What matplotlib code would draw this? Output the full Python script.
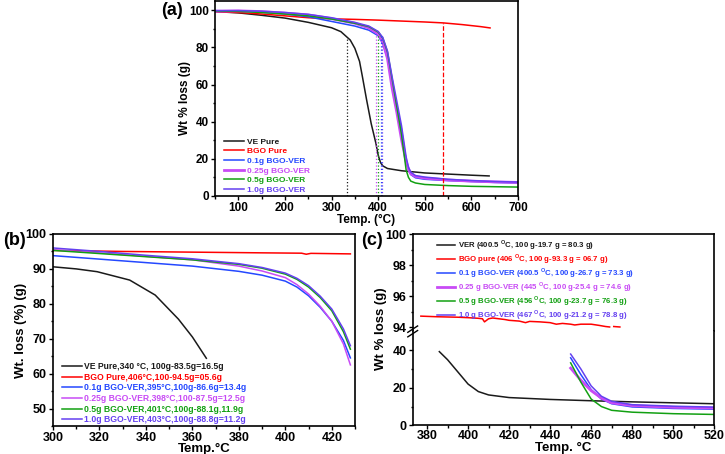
import numpy as np
import matplotlib
matplotlib.use('Agg')
import matplotlib.pyplot as plt

plt.rcParams['font.family'] = ['Liberation Sans', 'DejaVu Sans']
plt.rcParams['font.weight'] = 'bold'
plt.rcParams['axes.labelweight'] = 'bold'
plt.rcParams['mathtext.fontset'] = 'custom'
plt.rcParams['mathtext.rm'] = 'Liberation Sans:bold'
plt.rcParams['mathtext.bf'] = 'Liberation Sans:bold'

colors = ['#1a1a1a', '#ff0000', '#2448ff', '#c84bf5', '#12a012', '#6440f0']
widths = [1.1, 1.1, 1.1, 2.0, 1.1, 1.1]

# ---- panel (a): full TGA curves
a_labels = ['VE Pure', 'BGO Pure', '0.1g BGO-VER', '0.25g BGO-VER', '0.5g BGO-VER', '1.0g BGO-VER']
a_T_ve = [50, 100, 150, 200, 250, 300, 320, 340, 350, 360, 366, 375, 385, 395, 400, 405, 410, 420, 450, 500, 550, 600, 638]
a_ve = [99.3, 98.6, 97.3, 95.8, 93.5, 90.6, 88.5, 84.0, 79.5, 72.5, 64.5, 52.0, 39.0, 28.5, 22.0, 18.0, 16.2, 14.8, 13.6, 12.4, 11.8, 11.2, 10.8]
a_T_bgo = [50, 100, 150, 200, 250, 300, 350, 400, 450, 500, 540, 580, 620, 640]
a_bgo = [99.2, 98.8, 98.0, 97.0, 96.0, 95.4, 95.1, 94.7, 94.2, 93.7, 93.2, 92.3, 91.2, 90.5]
a_T = [50, 100, 150, 200, 250, 300, 350, 380, 400, 410, 420, 430, 440, 450, 460, 465, 470, 480, 500, 550, 600, 650, 700]
a_01 = [99.8, 99.6, 99.0, 98.0, 96.5, 94.0, 91.5, 89.3, 86.3, 82, 74, 60, 48, 36, 19, 14, 11.5, 9.8, 9.0, 8.3, 7.8, 7.3, 7.0]
a_025 = [99.5, 99.7, 99.3, 98.5, 97.5, 95.5, 93.0, 90.5, 87.3, 83, 74, 58, 45, 30.5, 18.5, 14.5, 12, 10.5, 9.6, 8.6, 8.0, 7.6, 7.3]
a_05 = [99.6, 99.4, 98.8, 98.0, 97.0, 95.3, 93.0, 91.2, 88.3, 85, 77.5, 63, 48, 33.3, 14, 10, 8, 7, 6.2, 5.6, 5.2, 5.0, 4.8]
a_10 = [99.8, 99.8, 99.5, 98.8, 97.8, 96.0, 93.5, 91.5, 88.6, 85.3, 78, 64, 51, 38, 21, 15.5, 12.8, 11, 10.2, 9.0, 8.3, 7.8, 7.5]
a_vline_T = [334, 396, 400, 405, 409, 540]
a_vline_top = [85, 87, 87, 87, 87, 93.2]
a_vline_col = [0, 3, 4, 2, 5, 1]

# ---- panel (b): zoom 300-430 C
b_labels = ['VE Pure,340 °C, 100g-83.5g=16.5g', 'BGO Pure,406°C,100-94.5g=05.6g',
            '0.1g BGO-VER,395°C,100g-86.6g=13.4g', '0.25g BGO-VER,398°C,100-87.5g=12.5g',
            '0.5g BGO-VER,401°C,100g-88.1g,11.9g', '1.0g BGO-VER,403°C,100g-88.8g=11.2g']
b_T_ve = [300, 310, 319, 333, 344, 354, 360, 366]
b_ve = [90.6, 90.0, 89.2, 86.8, 82.5, 75.6, 70.5, 64.4]
b_T_bgo = [300, 330, 360, 390, 407, 409, 411, 428]
b_bgo = [95.3, 95.0, 94.8, 94.6, 94.5, 94.2, 94.45, 94.3]
b_T = [300, 320, 340, 360, 380, 390, 400, 405, 410, 415, 420, 425, 428]
b_01 = [93.8, 92.8, 91.8, 90.8, 89.3, 88.2, 86.5, 84.8, 82.3, 79.0, 75.0, 69.5, 64.5]
b_025 = [95.5, 94.6, 93.6, 92.6, 90.8, 89.4, 87.5, 85.5, 82.8, 79.3, 75.0, 68.5, 62.5]
b_05 = [95.3, 94.4, 93.5, 92.6, 91.3, 90.2, 88.5, 87.0, 84.8, 81.8, 78.0, 72.0, 67.0]
b_10 = [96.0, 95.0, 93.9, 92.9, 91.5, 90.4, 88.8, 87.3, 85.2, 82.2, 78.5, 72.8, 68.0]

# ---- panel (c): broken axis
c_labels = [r'VER (400.5 $^{\mathrm{O}}$C, 100 g-19.7 g = 80.3 g)',
            r'BGO pure (406 $^{\mathrm{O}}$C, 100 g-93.3 g = 06.7 g)',
            r'0.1 g BGO-VER (400.5 $^{\mathrm{O}}$C, 100 g-26.7 g = 73.3 g)',
            r'0.25 g BGO-VER (445 $^{\mathrm{O}}$C, 100 g-25.4 g = 74.6 g)',
            r'0.5 g BGO-VER (456 $^{\mathrm{O}}$C, 100 g-23.7 g = 76.3 g)',
            r'1.0 g BGO-VER (467 $^{\mathrm{O}}$C, 100 g-21.2 g = 78.8 g)']
c_T_bgo = [377, 385, 395, 400, 405, 407, 408, 409, 410, 412, 415, 418, 420, 425, 428, 430, 435, 440,
           443, 446, 450, 452, 455, 460, 464, 467, 469]
c_bgo = [94.72, 94.68, 94.65, 94.62, 94.58, 94.55, 94.35, 94.45, 94.55, 94.6, 94.55, 94.5, 94.45, 94.4,
         94.3, 94.38, 94.35, 94.3, 94.2, 94.25, 94.2, 94.15, 94.2, 94.2, 94.12, 94.05, 94.02]
c_T_bgo2 = [471, 474]
c_bgo2 = [94.05, 94.02]
c_T_ve = [386, 390, 395, 400, 405, 410, 420, 440, 460, 480, 500, 520]
c_ve = [39.3, 35, 28.5, 22, 18, 16.2, 14.8, 13.8, 13.1, 12.5, 12.0, 11.5]
c_T = [450, 455, 460, 465, 470, 480, 500, 520]
c_01 = [36, 27, 19, 14, 11.5, 9.8, 9.0, 8.6]
c_025 = [30.5, 24, 18.5, 14.5, 12, 10.5, 9.6, 9.2]
c_05 = [33.3, 23, 14, 10, 8, 7, 6.2, 5.8]
c_10 = [38, 30, 21, 15.5, 12.8, 11, 10.2, 9.7]


def style(ax, fs):
    ax.tick_params(which='both', direction='out', top=False, right=False, labelsize=fs,
                   width=1, pad=1.5)
    ax.tick_params(which='major', length=3)
    ax.tick_params(which='minor', length=1.8)
    for s in ax.spines.values():
        s.set_linewidth(1.2)


fig = plt.figure(figsize=(7.25, 4.54), dpi=100)
ax_a = fig.add_axes([0.2966, 0.5683, 0.4179, 0.4295])
ax_b = fig.add_axes([0.0731, 0.0617, 0.4166, 0.4229])
ax_c1 = fig.add_axes([0.5692, 0.2709, 0.416, 0.213])
ax_c2 = fig.add_axes([0.5692, 0.0632, 0.416, 0.2077])

# (a)
series = [(a_T_ve, a_ve), (a_T_bgo, a_bgo), (a_T, a_01), (a_T, a_025), (a_T, a_05), (a_T, a_10)]
lines = []
for i, (t, v) in enumerate(series):
    ln, = ax_a.plot(t, v, color=colors[i], lw=widths[i])
    lines.append(ln)
for t, top, ci in zip(a_vline_T, a_vline_top, a_vline_col):
    ls = '--' if ci == 1 else ':'
    ax_a.vlines(t, 0, top, colors=colors[ci], linestyles=ls, lw=0.9)
ax_a.set_xlim(50, 700)
ax_a.set_ylim(0, 105)
ax_a.set_xticks(range(100, 701, 100))
ax_a.set_xticks(range(50, 701, 50), minor=True)
ax_a.set_yticks(range(0, 101, 20))
ax_a.set_yticks(range(0, 101, 10), minor=True)
style(ax_a, 8.5)
ax_a.set_xlabel('Temp. (°C)', fontsize=8.5)
ax_a.set_ylabel('Wt % loss (g)', fontsize=8.5)
ax_a.xaxis.set_label_coords(0.5, -0.09)
ax_a.yaxis.set_label_coords(-0.08, 0.5)
ax_a.legend(lines, a_labels, loc='lower left', bbox_to_anchor=(0.03, 0.01), frameon=False,
            prop=dict(size=6, weight='bold'), labelcolor=colors, handlelength=2.4,
            handletextpad=0.3, labelspacing=0.22, borderpad=0, borderaxespad=0)

# (b)
series = [(b_T_ve, b_ve), (b_T_bgo, b_bgo), (b_T, b_01), (b_T, b_025), (b_T, b_05), (b_T, b_10)]
lines = []
for i, (t, v) in enumerate(series):
    ln, = ax_b.plot(t, v, color=colors[i], lw=1.1)
    lines.append(ln)
ax_b.set_xlim(300, 430)
ax_b.set_ylim(45, 100)
ax_b.set_xticks(range(300, 421, 20))
ax_b.set_xticks(range(300, 431, 10), minor=True)
ax_b.set_yticks(range(50, 101, 10))
ax_b.set_yticks(range(45, 101, 5), minor=True)
style(ax_b, 9)
ax_b.set_xlabel('Temp.°C', fontsize=9.5)
ax_b.set_ylabel('Wt. loss (%) (g)', fontsize=9.5)
ax_b.xaxis.set_label_coords(0.5, -0.088)
ax_b.yaxis.set_label_coords(-0.085, 0.5)
ax_b.legend(lines, b_labels, loc='lower left', bbox_to_anchor=(0.03, 0.008), frameon=False,
            prop=dict(size=6.2, weight='bold'), labelcolor=colors, handlelength=2.3,
            handletextpad=0.3, labelspacing=0.2, borderpad=0, borderaxespad=0)

# (c)
lines = []
ln, = ax_c2.plot(c_T_ve, c_ve, color=colors[0], lw=1.1)
lines.append(ln)
ln, = ax_c1.plot(c_T_bgo, c_bgo, color=colors[1], lw=1.1)
ax_c1.plot(c_T_bgo2, c_bgo2, color=colors[1], lw=1.1)
lines.append(ln)
for i, v in enumerate([c_01, c_025, c_05, c_10]):
    ln, = ax_c2.plot(c_T, v, color=colors[i + 2], lw=widths[i + 2])
    lines.append(ln)
for ax in (ax_c1, ax_c2):
    ax.set_xlim(373, 520)
    ax.set_xticks(range(380, 521, 20))
    ax.set_xticks(range(380, 521, 10), minor=True)
    style(ax, 9)
ax_c2.tick_params(axis='x', pad=0.5)
ax_c1.set_ylim(93.76, 100)
ax_c1.set_yticks([94, 96, 98, 100])
ax_c1.set_yticks([95, 97, 99], minor=True)
ax_c1.spines['bottom'].set_visible(False)
ax_c1.tick_params(which='both', bottom=False, labelbottom=False)
ax_c2.set_ylim(0, 50.3)
ax_c2.set_yticks([0, 20, 40])
ax_c2.set_yticks([10, 30], minor=True)
ax_c2.spines['top'].set_visible(False)
ax_c2.set_xlabel('Temp. °C', fontsize=9.5)
ax_c2.xaxis.set_label_coords(0.5, -0.18)
fig.text(0.526, 0.275, 'Wt % loss (g)', rotation=90, ha='center', va='center', fontsize=9.5)
# break mark on the left spine
for dy in (-0.004, 0.006):
    fig.add_artist(plt.Line2D([0.5625, 0.576], [0.262 + dy, 0.276 + dy], color='k', lw=1,
                              transform=fig.transFigure))
ax_c1.legend(lines, c_labels, loc='upper left', bbox_to_anchor=(0.08, 0.96), frameon=False,
             prop=dict(size=5.6, weight='bold'), labelcolor=colors, handlelength=2.4,
             handletextpad=0.3, labelspacing=0.0, borderpad=0, borderaxespad=0)

fig.text(0.2524, 0.977, '(a)', ha='right', va='center', fontsize=13)
fig.text(0.004, 0.47, '(b)', ha='left', va='center', fontsize=13)
fig.text(0.498, 0.47, '(c)', ha='left', va='center', fontsize=13)

fig.savefig('out.png', dpi=100)
